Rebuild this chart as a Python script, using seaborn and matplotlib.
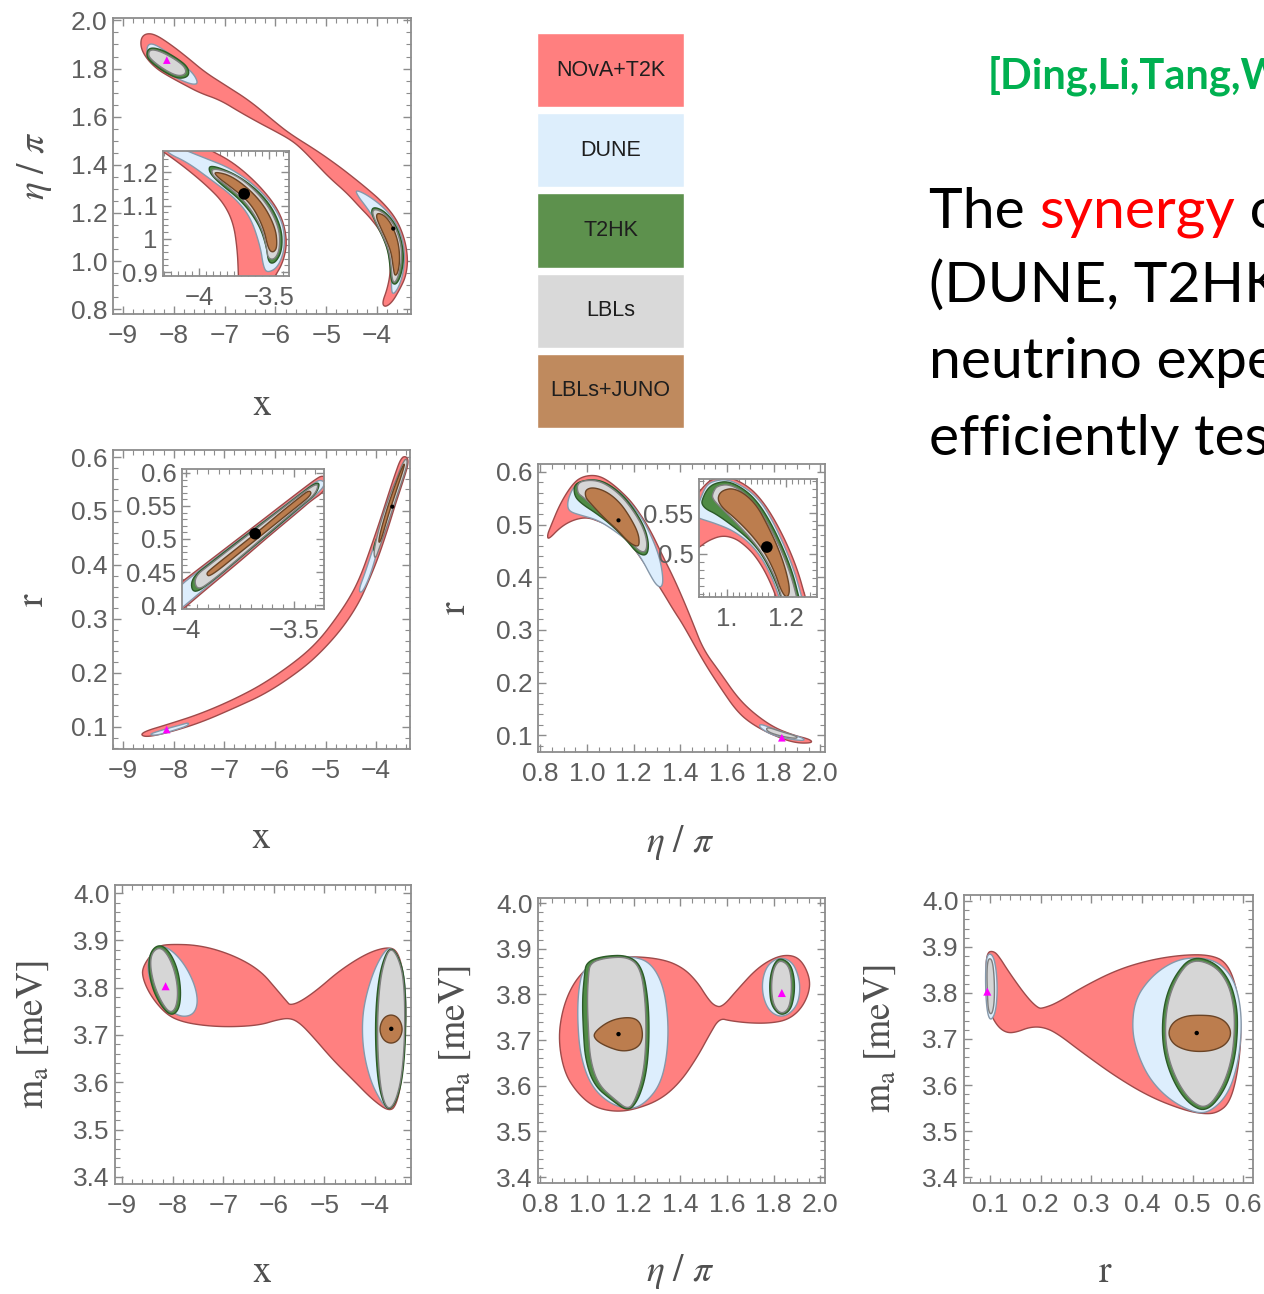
import numpy as np
import matplotlib
matplotlib.use("Agg")
import matplotlib.pyplot as plt
import seaborn as sns
from matplotlib.ticker import MultipleLocator, FuncFormatter, FixedLocator, FixedFormatter

sns.set_theme(style="ticks")
plt.rcParams["font.family"] = ["Liberation Sans", "DejaVu Sans"]
plt.rcParams["mathtext.fontset"] = "stix"

# ---- legend ----
LEGEND_LABELS = ["NOvA+T2K", "DUNE", "T2HK", "LBLs", "LBLs+JUNO"]
LEGEND_COLORS = ["#FF7F7F", "#DDEEFC", "#5D914D", "#D9D9D9", "#BF8A5E"]

# ---- best fit (black dot) and second minimum (magenta triangle) ----
BEST_X, BEST_ETA, BEST_R, BEST_MA = -3.68, 1.135, 0.508, 3.713
ALT_X, ALT_ETA, ALT_R, ALT_MA = -8.14, 1.835, 0.095, 3.803

# ---- allowed regions, outlines ----
# panel (x, eta/pi)
P1_RED = [(-8.65, 1.926), (-8.55, 1.946), (-8.37, 1.942), (-8.07, 1.901), (-7.74, 1.847), (-7.39, 1.785),
          (-6.99, 1.731), (-6.50, 1.665), (-6.01, 1.578), (-5.71, 1.528), (-5.18, 1.458), (-4.79, 1.400),
          (-4.53, 1.358), (-4.20, 1.302), (-3.88, 1.243), (-3.61, 1.173), (-3.45, 1.090), (-3.39, 1.007),
          (-3.43, 0.937), (-3.55, 0.883), (-3.70, 0.829), (-3.84, 0.808), (-3.90, 0.825), (-3.80, 0.883),
          (-3.74, 0.945), (-3.74, 0.999), (-3.80, 1.061), (-3.94, 1.127), (-4.14, 1.181), (-4.33, 1.222),
          (-4.59, 1.282), (-4.93, 1.345), (-5.18, 1.400), (-5.50, 1.470), (-5.71, 1.505), (-6.01, 1.540),
          (-6.30, 1.572), (-6.70, 1.619), (-7.09, 1.669), (-7.48, 1.698), (-7.78, 1.731), (-8.07, 1.764),
          (-8.33, 1.797), (-8.53, 1.839), (-8.65, 1.884)]
P1_BLUE_A = [(-8.53, 1.897), (-8.41, 1.905), (-8.13, 1.868), (-7.88, 1.826), (-7.62, 1.781), (-7.52, 1.739),
             (-7.62, 1.733), (-7.84, 1.749), (-8.13, 1.782), (-8.41, 1.824), (-8.53, 1.855)]
P1_GREEN_A = [(-8.49, 1.888), (-8.25, 1.880), (-7.94, 1.843), (-7.72, 1.806), (-7.70, 1.768), (-7.90, 1.756),
              (-8.19, 1.785), (-8.45, 1.826), (-8.55, 1.855)]
P1_GRAY_A = [(-8.47, 1.880), (-8.27, 1.872), (-7.98, 1.839), (-7.78, 1.806), (-7.76, 1.777), (-7.92, 1.768),
             (-8.17, 1.793), (-8.41, 1.830), (-8.51, 1.855)]
P1_BLUE_B = [(-4.43, 1.297), (-4.20, 1.276), (-3.88, 1.226), (-3.63, 1.164), (-3.49, 1.090), (-3.45, 1.015),
             (-3.49, 0.941), (-3.59, 0.883), (-3.70, 0.858), (-3.72, 0.904), (-3.70, 0.966), (-3.74, 1.040),
             (-3.84, 1.102), (-4.00, 1.160), (-4.20, 1.222), (-4.37, 1.268)]
P1_GREEN_B = [(-4.06, 1.226), (-3.84, 1.206), (-3.63, 1.152), (-3.51, 1.082), (-3.47, 1.007), (-3.53, 0.937),
              (-3.63, 0.900), (-3.72, 0.912), (-3.74, 0.974), (-3.78, 1.040), (-3.88, 1.098), (-4.02, 1.156),
              (-4.12, 1.206)]
P1_GRAY_B = [(-4.04, 1.218), (-3.84, 1.197), (-3.65, 1.148), (-3.53, 1.077), (-3.51, 1.007), (-3.57, 0.941),
             (-3.65, 0.908), (-3.70, 0.921), (-3.72, 0.978), (-3.76, 1.040), (-3.86, 1.094), (-4.00, 1.152),
             (-4.10, 1.201)]
P1_BROWN_B = [(-3.98, 1.201), (-3.82, 1.185), (-3.67, 1.135), (-3.57, 1.069), (-3.55, 0.999), (-3.59, 0.950),
              (-3.65, 0.937), (-3.68, 0.974), (-3.72, 1.036), (-3.82, 1.090), (-3.94, 1.144), (-4.02, 1.185)]
# inset of panel (x, eta/pi)
P1I_RED = [(-4.10, 1.31), (-3.94, 1.270), (-3.757, 1.230), (-3.564, 1.158), (-3.421, 1.079), (-3.371, 0.997),
           (-3.40, 0.93), (-3.47, 0.88), (-3.52, 0.85), (-3.72, 0.85), (-3.721, 0.888), (-3.729, 0.967),
           (-3.757, 1.048), (-3.829, 1.109), (-3.943, 1.158), (-4.086, 1.209), (-4.243, 1.258), (-4.40, 1.30)]
P1I_BLUE = [(-4.18, 1.28), (-3.993, 1.248), (-3.757, 1.209), (-3.543, 1.139), (-3.407, 1.058), (-3.386, 0.976),
            (-3.436, 0.915), (-3.514, 0.897), (-3.543, 0.915), (-3.564, 0.976), (-3.636, 1.067), (-3.757, 1.127),
            (-3.921, 1.179), (-4.086, 1.230), (-4.229, 1.258), (-4.25, 1.28)]
P1I_GREEN = [(-3.921, 1.224), (-3.707, 1.188), (-3.514, 1.118), (-3.414, 1.036), (-3.407, 0.967), (-3.457, 0.927),
             (-3.507, 0.927), (-3.520, 0.976), (-3.575, 1.045), (-3.700, 1.115), (-3.860, 1.168), (-3.936, 1.203)]
P1I_GRAY = [(-3.91, 1.215), (-3.72, 1.190), (-3.535, 1.118), (-3.43, 1.036), (-3.425, 0.970), (-3.46, 0.938),
            (-3.51, 0.940), (-3.52, 0.975), (-3.56, 1.040), (-3.67, 1.112), (-3.82, 1.165), (-3.91, 1.190)]
P1I_BROWN = [(-3.90, 1.203), (-3.757, 1.188), (-3.564, 1.118), (-3.457, 1.036), (-3.443, 0.976), (-3.471, 0.958),
             (-3.507, 0.967), (-3.543, 1.036), (-3.636, 1.109), (-3.779, 1.157), (-3.870, 1.185)]

# panel (x, r)
P2_RED = [(-8.67, 0.089), (-8.07, 0.106), (-7.48, 0.124), (-6.83, 0.150), (-6.20, 0.181), (-5.52, 0.226),
          (-5.12, 0.261), (-4.77, 0.304), (-4.49, 0.344), (-4.30, 0.381), (-4.12, 0.428), (-3.92, 0.483),
          (-3.76, 0.530), (-3.63, 0.567), (-3.51, 0.598), (-3.41, 0.602), (-3.35, 0.591), (-3.47, 0.554),
          (-3.61, 0.515), (-3.76, 0.469), (-3.96, 0.413), (-4.16, 0.367), (-4.35, 0.328), (-4.65, 0.285),
          (-5.04, 0.243), (-5.46, 0.207), (-6.15, 0.163), (-6.80, 0.135), (-7.44, 0.109), (-8.04, 0.091),
          (-8.57, 0.080)]
P2_BLUE_A = [(-8.50, 0.086), (-8.20, 0.095), (-7.85, 0.104), (-7.70, 0.108), (-7.72, 0.102), (-8.05, 0.092),
             (-8.35, 0.084)]
P2_BLUE_B = [(-4.35, 0.352), (-4.22, 0.385), (-4.08, 0.425), (-4.00, 0.445), (-3.95, 0.440), (-4.02, 0.410),
             (-4.14, 0.375), (-4.28, 0.348)]
P2_GREEN_B = [(-4.06, 0.428), (-3.99, 0.452), (-3.95, 0.447), (-4.01, 0.425)]
P2_GRAY_B = [(-4.05, 0.425), (-3.94, 0.470), (-3.76, 0.522), (-3.61, 0.557), (-3.47, 0.590), (-3.40, 0.598),
             (-3.38, 0.588), (-3.47, 0.560), (-3.61, 0.522), (-3.76, 0.478), (-3.94, 0.430), (-4.02, 0.410)]
P2_BROWN_B = [(-3.96, 0.445), (-3.80, 0.500), (-3.64, 0.544), (-3.50, 0.578), (-3.43, 0.590), (-3.47, 0.574),
              (-3.61, 0.535), (-3.76, 0.492), (-3.92, 0.440)]
# inset of panel (x, r)
P2I_RED = [(-4.064, 0.4245), (-3.995, 0.4415), (-3.927, 0.4585), (-3.835, 0.4815), (-3.743, 0.5045),
           (-3.651, 0.5275), (-3.560, 0.5505), (-3.468, 0.5735), (-3.399, 0.5905), (-3.367, 0.5965),
           (-3.335, 0.5900), (-3.360, 0.5715), (-3.422, 0.5575), (-3.468, 0.5445), (-3.560, 0.5195),
           (-3.651, 0.4945), (-3.743, 0.4685), (-3.835, 0.4435), (-3.927, 0.4185), (-3.995, 0.3995),
           (-4.064, 0.3805)]
P2I_BLUE = [(-4.064, 0.4205), (-3.927, 0.4555), (-3.743, 0.5015), (-3.560, 0.5465), (-3.468, 0.5695),
            (-3.399, 0.5865), (-3.376, 0.5895), (-3.352, 0.5850), (-3.380, 0.5715), (-3.468, 0.5475),
            (-3.560, 0.5225), (-3.743, 0.4725), (-3.927, 0.4215), (-3.995, 0.4025), (-4.064, 0.3845)]
P2I_GREEN = [(-3.980, 0.4405), (-3.881, 0.4655), (-3.743, 0.5005), (-3.560, 0.5455), (-3.468, 0.5685),
             (-3.404, 0.5845), (-3.378, 0.5845), (-3.398, 0.5675), (-3.468, 0.5495), (-3.560, 0.5235),
             (-3.743, 0.4735), (-3.881, 0.4355), (-3.970, 0.4155)]
P2I_GRAY = [(-3.965, 0.4425), (-3.881, 0.4635), (-3.743, 0.4985), (-3.560, 0.5445), (-3.468, 0.5675),
            (-3.408, 0.5815), (-3.385, 0.5825), (-3.402, 0.5675), (-3.468, 0.5505), (-3.560, 0.5255),
            (-3.743, 0.4745), (-3.881, 0.4365), (-3.950, 0.4215)]
P2I_BROWN = [(-3.890, 0.4535), (-3.743, 0.4915), (-3.651, 0.5155), (-3.560, 0.5405), (-3.468, 0.5645),
             (-3.431, 0.5735), (-3.418, 0.5700), (-3.431, 0.5635), (-3.468, 0.5535), (-3.560, 0.5295),
             (-3.651, 0.5055), (-3.743, 0.4815), (-3.890, 0.4425), (-3.908, 0.4470)]

# panel (eta/pi, r)
P3_RED = [(0.830, 0.480), (0.843, 0.495), (0.886, 0.541), (0.941, 0.579), (0.984, 0.592), (1.044, 0.594),
          (1.100, 0.581), (1.173, 0.552), (1.216, 0.528), (1.271, 0.490), (1.327, 0.438), (1.370, 0.400),
          (1.413, 0.357), (1.452, 0.315), (1.499, 0.262), (1.572, 0.218), (1.644, 0.172), (1.713, 0.142),
          (1.799, 0.115), (1.884, 0.100), (1.957, 0.092), (1.966, 0.085), (1.893, 0.085), (1.807, 0.098),
          (1.713, 0.119), (1.644, 0.144), (1.572, 0.190), (1.499, 0.240), (1.413, 0.309), (1.370, 0.338),
          (1.327, 0.370), (1.284, 0.400), (1.229, 0.438), (1.173, 0.471), (1.113, 0.494), (1.057, 0.505),
          (1.001, 0.514), (0.941, 0.509), (0.886, 0.495), (0.834, 0.471)]
P3_BLUE_A = [(0.916, 0.533), (0.920, 0.550), (0.945, 0.574), (1.001, 0.585), (1.057, 0.584), (1.130, 0.566),
             (1.186, 0.541), (1.241, 0.509), (1.284, 0.470), (1.314, 0.433), (1.327, 0.395), (1.319, 0.380),
             (1.297, 0.385), (1.271, 0.404), (1.237, 0.433), (1.186, 0.465), (1.113, 0.490), (1.044, 0.509),
             (0.971, 0.518), (0.929, 0.524)]
P3_GREEN_A = [(0.945, 0.578), (1.010, 0.586), (1.075, 0.582), (1.150, 0.558), (1.205, 0.527), (1.248, 0.494),
              (1.266, 0.462), (1.256, 0.440), (1.214, 0.446), (1.170, 0.470), (1.110, 0.497), (1.044, 0.520),
              (0.975, 0.540), (0.945, 0.555)]
P3_GRAY_A = [(0.959, 0.580), (1.014, 0.585), (1.070, 0.580), (1.143, 0.557), (1.199, 0.526), (1.241, 0.494),
             (1.259, 0.465), (1.250, 0.446), (1.216, 0.452), (1.173, 0.476), (1.113, 0.503), (1.044, 0.528),
             (0.984, 0.552), (0.959, 0.560)]
P3_BROWN_A = [(0.993, 0.566), (1.027, 0.571), (1.087, 0.562), (1.143, 0.541), (1.186, 0.513), (1.220, 0.484),
              (1.225, 0.462), (1.212, 0.458), (1.177, 0.467), (1.130, 0.490), (1.070, 0.514), (1.014, 0.541),
              (0.993, 0.552)]
P3_BLUE_B = [(1.74, 0.122), (1.80, 0.112), (1.86, 0.103), (1.93, 0.094), (1.93, 0.089), (1.86, 0.093),
             (1.79, 0.101), (1.74, 0.114)]
P3_GRAY_B = [(1.77, 0.116), (1.83, 0.107), (1.90, 0.098), (1.90, 0.093), (1.83, 0.098), (1.77, 0.107)]
# inset of panel (eta/pi, r)
P3I_RED = [(0.875, 0.566), (0.905, 0.576), (0.925, 0.585), (0.949, 0.5925), (1.003, 0.596), (1.071, 0.584),
           (1.119, 0.566), (1.163, 0.541), (1.207, 0.509), (1.241, 0.4775), (1.264, 0.4475), (1.275, 0.435),
           (1.173, 0.435), (1.166, 0.4475), (1.132, 0.476), (1.095, 0.4975), (1.061, 0.510), (1.027, 0.519),
           (0.983, 0.5225), (0.936, 0.516), (0.905, 0.5075), (0.875, 0.501)]
P3I_BLUE = [(0.898, 0.556), (0.912, 0.570), (0.929, 0.584), (0.953, 0.590), (1.003, 0.5925), (1.071, 0.580),
            (1.119, 0.5625), (1.159, 0.5375), (1.200, 0.505), (1.231, 0.475), (1.254, 0.445), (1.261, 0.435),
            (1.183, 0.435), (1.176, 0.4475), (1.146, 0.476), (1.108, 0.500), (1.068, 0.516), (1.017, 0.529),
            (0.959, 0.5375), (0.915, 0.5425), (0.898, 0.545)]
P3I_GREEN = [(0.915, 0.566), (0.932, 0.580), (0.959, 0.5875), (1.007, 0.590), (1.068, 0.5775), (1.112, 0.560),
             (1.153, 0.535), (1.193, 0.504), (1.224, 0.474), (1.244, 0.445), (1.251, 0.435), (1.186, 0.435),
             (1.183, 0.4475), (1.153, 0.475), (1.115, 0.501), (1.071, 0.519), (1.017, 0.535), (0.963, 0.549),
             (0.929, 0.555), (0.915, 0.561)]
P3I_GRAY = [(0.953, 0.576), (0.966, 0.584), (1.010, 0.586), (1.064, 0.574), (1.108, 0.556), (1.146, 0.5325),
            (1.186, 0.5025), (1.217, 0.4725), (1.237, 0.445), (1.241, 0.435), (1.190, 0.435), (1.186, 0.446),
            (1.159, 0.474), (1.122, 0.499), (1.078, 0.520), (1.024, 0.541), (0.973, 0.559), (0.949, 0.569)]
P3I_BROWN = [(0.973, 0.574), (0.990, 0.579), (1.020, 0.581), (1.061, 0.574), (1.102, 0.559), (1.136, 0.536),
             (1.173, 0.5075), (1.200, 0.479), (1.214, 0.454), (1.203, 0.444), (1.183, 0.454), (1.163, 0.476),
             (1.129, 0.501), (1.085, 0.5225), (1.027, 0.544), (0.986, 0.556), (0.969, 0.566)]

# panel (x, m_a)
P4_RED = [(-8.605, 3.844), (-8.308, 3.886), (-8.111, 3.892), (-7.458, 3.890), (-6.806, 3.869), (-6.273, 3.837),
          (-5.937, 3.795), (-5.739, 3.770), (-5.680, 3.763), (-5.482, 3.770), (-5.146, 3.795), (-4.692, 3.837),
          (-4.158, 3.873), (-3.763, 3.886), (-3.565, 3.879), (-3.447, 3.837), (-3.387, 3.767), (-3.407, 3.696),
          (-3.466, 3.611), (-3.565, 3.556), (-3.704, 3.537), (-4.040, 3.562), (-4.435, 3.605), (-4.830, 3.647),
          (-5.225, 3.696), (-5.482, 3.725), (-5.680, 3.736), (-5.937, 3.732), (-6.273, 3.721), (-6.806, 3.717),
          (-7.320, 3.719), (-7.794, 3.727), (-8.111, 3.742), (-8.407, 3.778), (-8.585, 3.816)]
P4_BLUE_L = [(-8.447, 3.875), (-8.249, 3.890), (-8.012, 3.879), (-7.755, 3.848), (-7.557, 3.805), (-7.498, 3.767),
             (-7.597, 3.742), (-7.854, 3.738), (-8.111, 3.757), (-8.348, 3.791), (-8.506, 3.833)]
P4_GREEN_L = [(-8.427, 3.879), (-8.249, 3.892), (-8.051, 3.875), (-7.893, 3.837), (-7.834, 3.791), (-7.874, 3.753),
              (-8.032, 3.740), (-8.229, 3.761), (-8.407, 3.799), (-8.486, 3.846)]
P4_GRAY_L = [(-8.407, 3.875), (-8.249, 3.886), (-8.091, 3.869), (-7.953, 3.833), (-7.893, 3.791), (-7.933, 3.757),
             (-8.051, 3.746), (-8.209, 3.767), (-8.368, 3.805), (-8.447, 3.848)]
P4_BLUE_R = [(-3.704, 3.886), (-3.545, 3.869), (-3.427, 3.827), (-3.387, 3.767), (-3.407, 3.696), (-3.466, 3.626),
             (-3.585, 3.573), (-3.723, 3.539), (-3.901, 3.562), (-4.099, 3.605), (-4.237, 3.668), (-4.257, 3.732),
             (-4.178, 3.784), (-4.020, 3.837), (-3.842, 3.873)]
P4_GREEN_R = [(-3.704, 3.888), (-3.526, 3.865), (-3.407, 3.816), (-3.387, 3.710), (-3.447, 3.615), (-3.565, 3.562),
              (-3.723, 3.539), (-3.862, 3.562), (-3.960, 3.615), (-4.000, 3.710), (-3.960, 3.795), (-3.862, 3.852)]
P4_GRAY_R = [(-3.704, 3.886), (-3.545, 3.865), (-3.427, 3.816), (-3.407, 3.710), (-3.466, 3.615), (-3.585, 3.562),
             (-3.723, 3.541), (-3.842, 3.562), (-3.921, 3.615), (-3.960, 3.710), (-3.921, 3.795), (-3.842, 3.848)]
P4_BROWN = [(-3.684, 3.744), (-3.526, 3.736), (-3.447, 3.712), (-3.526, 3.689), (-3.684, 3.681), (-3.842, 3.689),
            (-3.921, 3.712), (-3.842, 3.736)]

# panel (eta/pi, m_a)
P5_RED = [(0.877, 3.700), (0.894, 3.766), (0.937, 3.821), (1.001, 3.860), (1.070, 3.875), (1.186, 3.884),
          (1.327, 3.877), (1.413, 3.858), (1.473, 3.827), (1.516, 3.792), (1.546, 3.775), (1.580, 3.772),
          (1.644, 3.810), (1.730, 3.858), (1.816, 3.884), (1.884, 3.886), (1.927, 3.869), (1.957, 3.832),
          (1.949, 3.799), (1.914, 3.766), (1.859, 3.744), (1.786, 3.737), (1.700, 3.737), (1.614, 3.742),
          (1.567, 3.748), (1.524, 3.711), (1.473, 3.663), (1.400, 3.608), (1.314, 3.569), (1.199, 3.547),
          (1.113, 3.543), (1.027, 3.554), (0.959, 3.584), (0.903, 3.628)]
P5_BLUE_L = [(0.984, 3.858), (1.079, 3.880), (1.186, 3.884), (1.271, 3.871), (1.327, 3.821), (1.349, 3.744),
             (1.344, 3.667), (1.314, 3.602), (1.250, 3.562), (1.186, 3.547), (1.091, 3.562), (1.014, 3.602),
             (0.971, 3.667), (0.959, 3.744), (0.963, 3.810)]
P5_GREEN_L = [(0.997, 3.871), (1.070, 3.884), (1.177, 3.886), (1.237, 3.860), (1.263, 3.788), (1.267, 3.700),
              (1.254, 3.624), (1.220, 3.569), (1.177, 3.543), (1.109, 3.567), (1.031, 3.600), (0.993, 3.656),
              (0.984, 3.722), (0.980, 3.788), (0.989, 3.842)]
P5_GRAY_L = [(1.014, 3.869), (1.079, 3.880), (1.177, 3.882), (1.229, 3.858), (1.250, 3.788), (1.254, 3.700),
             (1.241, 3.624), (1.207, 3.569), (1.177, 3.547), (1.121, 3.569), (1.049, 3.602), (1.014, 3.656),
             (1.006, 3.722), (1.001, 3.788), (1.006, 3.842)]
P5_BROWN = [(1.027, 3.716), (1.100, 3.744), (1.186, 3.751), (1.229, 3.740), (1.241, 3.707), (1.220, 3.683),
            (1.156, 3.674), (1.087, 3.685), (1.036, 3.700)]
P5_BLUE_R = [(1.829, 3.882), (1.880, 3.871), (1.906, 3.842), (1.914, 3.810), (1.902, 3.777), (1.863, 3.755),
             (1.820, 3.751), (1.777, 3.766), (1.752, 3.799), (1.752, 3.836), (1.777, 3.867)]
P5_GREEN_R = [(1.829, 3.880), (1.872, 3.867), (1.889, 3.836), (1.889, 3.799), (1.872, 3.764), (1.829, 3.753),
              (1.790, 3.775), (1.782, 3.810), (1.786, 3.842), (1.803, 3.869)]
P5_GRAY_R = [(1.829, 3.875), (1.863, 3.864), (1.876, 3.836), (1.876, 3.799), (1.863, 3.766), (1.829, 3.757),
             (1.799, 3.777), (1.790, 3.810), (1.794, 3.842), (1.807, 3.864)]

# panel (r, m_a)
P6_RED = [(0.096, 3.889), (0.106, 3.891), (0.116, 3.883), (0.139, 3.843), (0.173, 3.791), (0.195, 3.767),
          (0.205, 3.767), (0.232, 3.778), (0.283, 3.813), (0.350, 3.850), (0.416, 3.872), (0.481, 3.883),
          (0.534, 3.883), (0.567, 3.867), (0.587, 3.813), (0.597, 3.720), (0.589, 3.626), (0.573, 3.561),
          (0.548, 3.539), (0.520, 3.537), (0.481, 3.546), (0.416, 3.574), (0.350, 3.617), (0.283, 3.670),
          (0.232, 3.713), (0.205, 3.726), (0.179, 3.726), (0.153, 3.715), (0.134, 3.713), (0.116, 3.726),
          (0.100, 3.757), (0.094, 3.813), (0.092, 3.865)]
P6_BLUE_L = [(0.094, 3.885), (0.106, 3.884), (0.113, 3.850), (0.115, 3.800), (0.111, 3.755), (0.100, 3.738),
             (0.093, 3.770), (0.091, 3.840)]
P6_GRAY_L = [(0.097, 3.876), (0.105, 3.872), (0.109, 3.830), (0.109, 3.780), (0.104, 3.752), (0.097, 3.760),
             (0.095, 3.800), (0.094, 3.850)]
P6_BLUE_R = [(0.494, 3.878), (0.544, 3.872), (0.577, 3.839), (0.593, 3.785), (0.597, 3.720), (0.589, 3.643),
             (0.569, 3.578), (0.534, 3.541), (0.504, 3.539), (0.455, 3.567), (0.416, 3.611), (0.392, 3.665),
             (0.380, 3.720), (0.386, 3.785), (0.416, 3.833), (0.455, 3.865)]
P6_GREEN_R = [(0.498, 3.880), (0.544, 3.867), (0.573, 3.828), (0.587, 3.774), (0.589, 3.720), (0.583, 3.654),
              (0.564, 3.589), (0.528, 3.541), (0.494, 3.557), (0.465, 3.600), (0.445, 3.659), (0.439, 3.720),
              (0.445, 3.785), (0.465, 3.839)]
P6_GRAY_R = [(0.498, 3.874), (0.542, 3.861), (0.569, 3.824), (0.581, 3.774), (0.583, 3.720), (0.577, 3.654),
             (0.558, 3.593), (0.528, 3.548), (0.498, 3.563), (0.471, 3.604), (0.451, 3.661), (0.445, 3.720),
             (0.451, 3.783), (0.469, 3.835)]
P6_BROWN = [(0.451, 3.713), (0.461, 3.737), (0.485, 3.750), (0.514, 3.752), (0.544, 3.750), (0.567, 3.737),
            (0.577, 3.713), (0.567, 3.689), (0.544, 3.676), (0.514, 3.672), (0.485, 3.676), (0.461, 3.689)]

# fill / outline colours of the contour levels
FILL = {
    "red": ("#FF8080", "#9E4A4A"),
    "blue": ("#DDEEFD", "#8698AA"),
    "green": ("#4F8B45", "#2C5A28"),
    "gray": ("#D6D6D6", "#7E7E7E"),
    "brown": ("#BC7D4E", "#6A4426"),
}
FRAME = "#8c8c8c"
TICK_TXT = "#5e5e5e"
LABEL_TXT = "#505050"

W, H = 1264, 1294
fig = plt.figure(figsize=(W / 100, H / 100), dpi=100)


def px_axes(x0, y0, x1, y1):
    return fig.add_axes([x0 / W, 1 - y1 / H, (x1 - x0) / W, (y1 - y0) / H])


def smooth(pts, n=3):
    # corner cutting, just to round the outlines
    p = np.asarray(pts, dtype=float)
    for _ in range(n):
        q = np.roll(p, -1, axis=0)
        p = np.column_stack([0.75 * p + 0.25 * q, 0.25 * p + 0.75 * q]).reshape(-1, 2)
    return p


def draw(ax, layers):
    for kind, pts in layers:
        fc, ec = FILL[kind]
        p = smooth(pts)
        ax.fill(p[:, 0], p[:, 1], facecolor=fc, edgecolor=ec, linewidth=1.0, joinstyle="round")


def fmt(spec):
    return FuncFormatter(lambda v, pos: format(v, spec).replace("-", "\u2212"))


def style(ax, xlim, ylim, xmaj, xmin, ymaj, ymin, xspec, yspec, size=19):
    ax.set_xlim(*xlim)
    ax.set_ylim(*ylim)
    ax.set_facecolor("white")
    ax.grid(False)
    if xmaj is not None:
        ax.xaxis.set_major_locator(MultipleLocator(xmaj))
        ax.xaxis.set_major_formatter(fmt(xspec))
    if ymaj is not None:
        ax.yaxis.set_major_locator(MultipleLocator(ymaj))
        ax.yaxis.set_major_formatter(fmt(yspec))
    ax.xaxis.set_minor_locator(MultipleLocator(xmin))
    ax.yaxis.set_minor_locator(MultipleLocator(ymin))
    for s in ax.spines.values():
        s.set_visible(True)
        s.set_color(FRAME)
        s.set_linewidth(1.3)
    ax.tick_params(which="both", direction="in", top=True, right=True, color=FRAME,
                   labelcolor=TICK_TXT, labelsize=size)
    ax.tick_params(which="major", length=6, width=1.0)
    ax.tick_params(which="minor", length=3.5, width=0.8)
    ax.tick_params(axis="x", which="both", pad=7)
    ax.tick_params(axis="y", which="both", pad=4)


def labels(ax, xl, yl, xpos, ypos):
    ax.set_xlabel(xl, fontsize=27, color=LABEL_TXT, ha="center", va="center")
    ax.set_ylabel(yl, fontsize=27, color=LABEL_TXT, ha="center", va="center")
    ax.xaxis.set_label_coords(*xpos)
    ax.yaxis.set_label_coords(*ypos)


def marks(ax, bx, by, ax_, ay_, dot=10, tri=38):
    sns.scatterplot(x=[bx], y=[by], ax=ax, color="black", s=dot, marker="o", edgecolor="none",
                    zorder=6, legend=False)
    if ax_ is not None:
        sns.scatterplot(x=[ax_], y=[ay_], ax=ax, color="#FF00FF", s=tri, marker="^", edgecolor="none",
                        zorder=6, legend=False)


LX = r"$\mathrm{x}$"
LETA = r"$\eta\ /\ \pi$"
LR = r"$\mathrm{r}$"
LMA = r"$\mathrm{m_a}\ [\mathrm{meV}]$"

# ---- x vs eta/pi ----
ax1 = px_axes(113, 18, 411, 314)
draw(ax1, [("red", P1_RED), ("blue", P1_BLUE_A), ("green", P1_GREEN_A), ("gray", P1_GRAY_A),
           ("blue", P1_BLUE_B), ("green", P1_GREEN_B), ("gray", P1_GRAY_B), ("brown", P1_BROWN_B)])
marks(ax1, BEST_X, BEST_ETA, ALT_X, ALT_ETA, dot=9, tri=30)
style(ax1, (-9.2, -3.33), (0.78, 2.01), 1, 0.2, 0.2, 0.05, ".0f", ".1f")
labels(ax1, LX, LETA, (0.5, -0.307), (-0.262, 0.5))

ax1i = px_axes(163, 151, 289, 276)
draw(ax1i, [("red", P1I_RED), ("blue", P1I_BLUE), ("green", P1I_GREEN), ("gray", P1I_GRAY),
            ("brown", P1I_BROWN)])
marks(ax1i, BEST_X, BEST_ETA, None, None, dot=70)
style(ax1i, (-4.26, -3.36), (0.888, 1.264), 0.5, 0.05, 0.1, 0.02, "g", "g", size=18.5)
ax1i.set_xlabel("")
ax1i.set_ylabel("")

# ---- x vs r ----
ax2 = px_axes(113, 450, 410, 749)
draw(ax2, [("red", P2_RED), ("blue", P2_BLUE_A), ("blue", P2_BLUE_B), ("green", P2_GREEN_B),
           ("gray", P2_GRAY_B), ("brown", P2_BROWN_B)])
marks(ax2, BEST_X, BEST_R, ALT_X, ALT_R, dot=9, tri=30)
style(ax2, (-9.2, -3.33), (0.059, 0.613), 1, 0.2, 0.1, 0.02, ".0f", ".1f")
labels(ax2, LX, LR, (0.5, -0.298), (-0.269, 0.5))

ax2i = px_axes(182, 469, 324, 609)
draw(ax2i, [("red", P2I_RED), ("blue", P2I_BLUE), ("green", P2I_GREEN), ("gray", P2I_GRAY),
            ("brown", P2I_BROWN)])
marks(ax2i, BEST_X, BEST_R, None, None, dot=70)
style(ax2i, (-4.02, -3.36), (0.394, 0.606), 0.5, 0.05, 0.05, 0.01, "g", "g", size=18.5)
ax2i.set_xlabel("")
ax2i.set_ylabel("")

# ---- eta/pi vs r ----
ax3 = px_axes(538, 464, 825, 752)
draw(ax3, [("red", P3_RED), ("blue", P3_BLUE_A), ("green", P3_GREEN_A), ("gray", P3_GRAY_A),
           ("brown", P3_BROWN_A), ("blue", P3_BLUE_B), ("gray", P3_GRAY_B)])
marks(ax3, BEST_ETA, BEST_R, ALT_ETA, ALT_R, dot=9, tri=30)
style(ax3, (0.79, 2.02), (0.068, 0.615), 0.2, 0.05, 0.1, 0.02, ".1f", ".1f")
labels(ax3, LETA, LR, (0.495, -0.3125), (-0.289, 0.5))

INSET3_XTICKS = [1.0, 1.2]
INSET3_XLABELS = ["1.", "1.2"]
INSET3_YTICKS = [0.5, 0.55]
ax3i = px_axes(699, 479, 817, 597)
draw(ax3i, [("red", P3I_RED), ("blue", P3I_BLUE), ("green", P3I_GREEN), ("gray", P3I_GRAY),
            ("brown", P3I_BROWN)])
marks(ax3i, BEST_ETA, BEST_R, None, None, dot=70)
style(ax3i, (0.905, 1.305), (0.446, 0.5925), None, 0.02, None, 0.01, "g", "g", size=18.5)
ax3i.xaxis.set_major_locator(FixedLocator(INSET3_XTICKS))
ax3i.xaxis.set_major_formatter(FixedFormatter(INSET3_XLABELS))
ax3i.yaxis.set_major_locator(FixedLocator(INSET3_YTICKS))
ax3i.yaxis.set_major_formatter(fmt("g"))
ax3i.set_xlabel("")
ax3i.set_ylabel("")

# ---- x vs m_a ----
ax4 = px_axes(115, 885, 411, 1184)
draw(ax4, [("red", P4_RED), ("blue", P4_BLUE_L), ("green", P4_GREEN_L), ("gray", P4_GRAY_L),
           ("blue", P4_BLUE_R), ("green", P4_GREEN_R), ("gray", P4_GRAY_R), ("brown", P4_BROWN)])
marks(ax4, BEST_X, BEST_MA, ALT_X, ALT_MA, dot=10, tri=34)
style(ax4, (-9.14, -3.29), (3.385, 4.017), 1, 0.2, 0.1, 0.02, ".0f", ".1f")
labels(ax4, LX, LMA, (0.497, -0.294), (-0.277, 0.5))

# ---- eta/pi vs m_a ----
ax5 = px_axes(538, 898, 825, 1183)
draw(ax5, [("red", P5_RED), ("blue", P5_BLUE_L), ("green", P5_GREEN_L), ("gray", P5_GRAY_L),
           ("brown", P5_BROWN), ("blue", P5_BLUE_R), ("green", P5_GREEN_R), ("gray", P5_GRAY_R)])
marks(ax5, BEST_ETA, BEST_MA, ALT_ETA, ALT_MA, dot=10, tri=34)
style(ax5, (0.79, 2.02), (3.387, 4.011), 0.2, 0.05, 0.1, 0.02, ".1f", ".1f")
labels(ax5, LETA, LMA, (0.495, -0.312), (-0.289, 0.502))

# ---- r vs m_a ----
ax6 = px_axes(964, 895, 1253, 1183)
draw(ax6, [("red", P6_RED), ("blue", P6_BLUE_L), ("gray", P6_GRAY_L), ("blue", P6_BLUE_R),
           ("green", P6_GREEN_R), ("gray", P6_GRAY_R), ("brown", P6_BROWN)])
marks(ax6, BEST_R, BEST_MA, ALT_R, ALT_MA, dot=10, tri=34)
style(ax6, (0.049, 0.619), (3.387, 4.013), 0.1, 0.02, 0.1, 0.02, ".1f", ".1f")
labels(ax6, LR, LMA, (0.488, -0.309), (-0.291, 0.5))

# ---- colour key ----
leg = px_axes(537, 33, 684, 428)
sns.barplot(x=[1] * len(LEGEND_LABELS), y=LEGEND_LABELS, hue=LEGEND_LABELS, palette=LEGEND_COLORS,
            saturation=1, width=0.925, orient="h", legend=False, ax=leg)
leg.set_xlim(0, 1)
leg.set_ylim(len(LEGEND_LABELS) - 0.5375, -0.4625)
leg.axis("off")
for i, lab in enumerate(LEGEND_LABELS):
    leg.text(0.5, i, lab, ha="center", va="center", fontsize=15.5, color="#1e1e1e")

# ---- slide text (cut by the right edge of the slide, as in the source) ----
renderer = fig.canvas.get_renderer()


def text_runs(x_px, base_px, runs, **kw):
    full = ""
    for s, col in runs:
        full += s
        probe_all = fig.text(0, 0, full, **kw)
        probe_run = fig.text(0, 0, s, **kw)
        offset = probe_all.get_window_extent(renderer).width - probe_run.get_window_extent(renderer).width
        probe_all.remove()
        probe_run.remove()
        fig.text((x_px + offset) / W, 1 - base_px / H, s, color=col, ha="left", va="baseline", **kw)


BODY = dict(fontsize=41, family=["Lato", "DejaVu Sans"])
fig.text(988 / W, 1 - 88 / H, "[Ding,Li,Tang,W", color="#00B050", fontsize=30, fontweight="bold",
         family=["Lato", "DejaVu Sans"], ha="left", va="baseline")
text_runs(929, 228, [("The ", "black"), ("synergy", "#FF0000"), (" o", "black")], **BODY)
text_runs(929, 302, [("(DUNE, T2HK", "black")], **BODY)
text_runs(929, 378, [("neutrino expe", "black")], **BODY)
text_runs(929, 455, [("efficiently tes", "black")], **BODY)

fig.savefig("out.png", dpi=100)
